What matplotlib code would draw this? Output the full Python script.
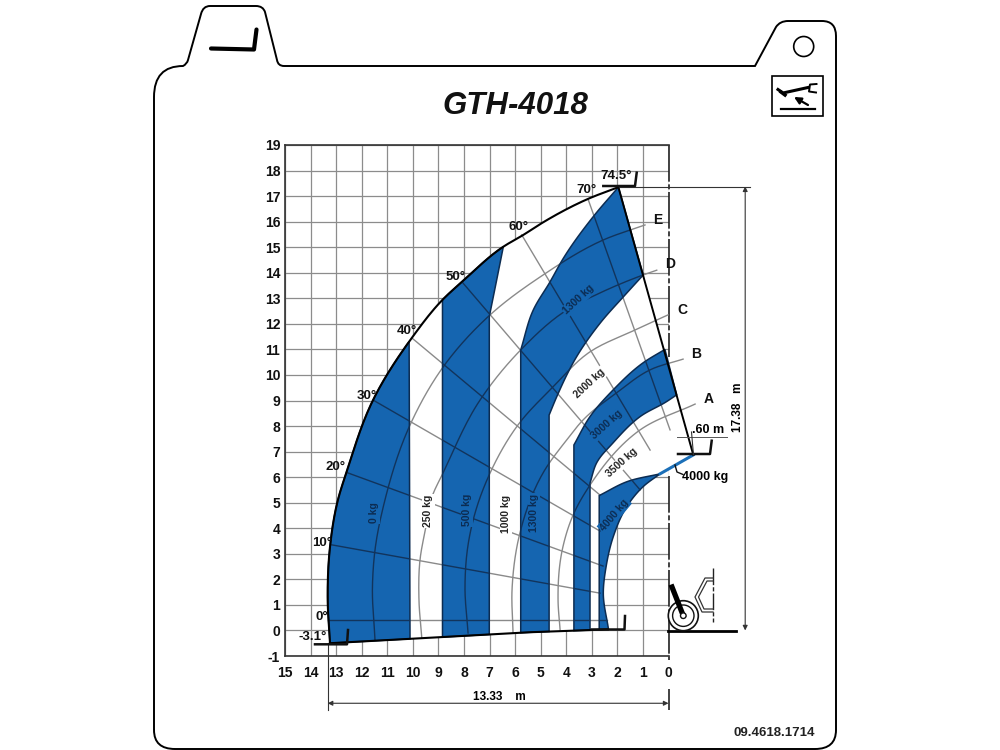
import numpy as np
import matplotlib
matplotlib.use('Agg')
import matplotlib.pyplot as plt
from matplotlib.patches import Polygon, Circle, PathPatch, Rectangle
from matplotlib.path import Path

plt.rcParams['font.family'] = ['Liberation Sans', 'DejaVu Sans']
plt.rcParams['axes.unicode_minus'] = False

# ---------- data (metres) ----------
x_ticks = list(range(0, 16))
y_ticks = list(range(-1, 20))
envelope = [(13.24,-0.50),(13.33,1.19),(13.24,3.27),(12.93,5.11),(12.59,6.21),(11.56,9.01),
            (10.04,11.45),(8.84,12.94),(8.04,13.68),(6.46,15.02),(5.68,15.48),(4.91,15.97),
            (3.15,16.89),(1.96,17.35)]
bottom_line = [(13.24,-0.50),(5.42,-0.07),(2.37,0.04)]
boom_end = (-0.97,6.87)
band_edges = [10.11,8.84,7.01,5.78,4.67,3.70,3.07,2.71]
b500_right = [(6.46,15.02),(6.72,13.72),(7.01,12.28)]
b1300_upper = [(5.78,10.98),(5.29,12.54),(4.63,13.65),(4.11,14.57),(2.94,16.20),(1.96,17.35)]
b1300_lower = [(0.99,13.91),(1.70,13.13),(2.68,12.02),(3.59,10.72),(4.37,9.15),(4.67,8.43)]
b3000_upper = [(3.70,7.26),(3.07,8.37),(2.17,9.41),(1.00,10.47),(0.14,11.00)]
b3000_lower = [(-0.32,9.22),(0.07,8.96),(1.11,8.37),(2.17,7.34),(2.81,6.56),(3.07,5.77)]
b4000_upper = [(2.71,5.28),(1.63,5.82),(0.33,6.13)]
b4000_lower = [(0.33,6.13),(0.99,5.63),(1.63,4.85),(2.16,3.67),(2.44,2.50),(2.55,1.47),(2.35,0.06)]

arc_E = [(11.48,-0.37),(11.58,1.71),(11.48,3.15),(11.09,5.11),(10.11,8.04),(8.81,10.32),
         (6.98,12.35),(4.91,13.91),(2.56,15.28),(0.92,15.87)]
arc_D = [(9.65,-0.29),(9.76,1.19),(9.72,2.76),(9.48,4.09),(9.25,5.23),(8.82,6.16),(7.37,9.02),
         (5.78,10.98),(3.98,12.54),(2.68,13.21),(1.00,13.91),(0.46,14.10)]
arc_C = [(7.84,-0.10),(7.96,1.71),(7.84,3.35),(7.53,4.72),(6.98,6.16),(5.89,8.04),(4.52,9.53),
         (3.15,10.85),(1.31,11.76),(0.02,12.35)]
arc_B = [(6.08,-0.10),(6.12,1.59),(5.81,3.82),(4.91,6.16),(3.98,7.46),(3.34,8.24),(2.03,9.30),
         (0.72,10.20),(-0.57,10.62)]
arc_A = [(4.24,0.02),(4.32,1.19),(4.13,3.27),(3.73,4.52),(3.07,5.69),(1.11,7.85),(-1.04,8.86)]
arcs = [arc_E, arc_D, arc_C, arc_B, arc_A]

radials = [[(13.30,0.41),(2.42,0.41)],
           [(13.17,3.35),(2.68,1.46)],
           [(12.58,6.18),(2.56,2.52)],
           [(11.56,9.02),(2.68,3.89)],
           [(10.04,11.45),(2.68,5.30)],
           [(8.04,13.60),(1.11,5.50)],
           [(5.74,15.48),(0.72,7.06)],
           [(3.15,16.89),(-0.06,7.85)]]

angle_labels = ['0°','-3.1°','10°','20°','30°','40°','50°','60°','70°','74.5°']
angle_pos = [(13.56,0.52),(13.90,-0.24),(13.56,3.42),(13.04,6.39),(11.79,9.17),(10.24,11.72),
             (8.31,13.85),(5.87,15.79),(3.20,17.24),(2.03,17.79)]
zone_labels = ['A','B','C','D','E']
zone_pos = [(-1.58,9.06),(-1.10,10.81),(-0.54,12.55),(-0.06,14.35),(0.42,16.07)]
kg_labels = ['0 kg','250 kg','500 kg','1000 kg','1300 kg','1300 kg','2000 kg','3000 kg','3500 kg','4000 kg']
kg_pos = [(11.51,4.61),(9.39,4.68),(7.89,4.72),(6.36,4.56),(5.26,4.60),(3.50,12.96),(3.07,9.67),
          (2.42,8.04),(1.81,6.58),(2.12,4.52)]
kg_rot = [90,90,90,90,90,43,43,42,42,50]
kg_on_blue = [True,False,True,False,True,True,False,True,False,True]
reach = 13.33
height = 17.38
fork_offset = 0.60
capacity = '4000 kg'
title = 'GTH-4018'
code = '09.4618.1714'

DARK = '#0c2c52'
BLUE = '#1565b0'
GREY = '#8c8c8c'
INK = '#111111'

# ---------- helpers ----------
def curve(pts, n=16):
    """Smooth drawing of a line through the read points (chord-length Hermite)."""
    p = np.array(pts, float)
    if len(p) < 3:
        return p
    d = np.linalg.norm(np.diff(p, axis=0), axis=1)
    s = np.diff(p, axis=0) / d[:, None]
    m = np.zeros_like(p)
    m[0], m[-1] = s[0], s[-1]
    for i in range(1, len(p)-1):
        m[i] = (s[i-1]*d[i] + s[i]*d[i-1]) / (d[i-1] + d[i])
    out = []
    for i in range(len(d)):
        t = np.linspace(0, 1, n, endpoint=False)[:, None]
        out.append((2*t**3-3*t**2+1)*p[i] + (t**3-2*t**2+t)*d[i]*m[i]
                   + (-2*t**3+3*t**2)*p[i+1] + (t**3-t**2)*d[i]*m[i+1])
    out.append(p[-1:])
    return np.vstack(out)

env = curve(envelope)
bot = np.array(bottom_line)
bot_xy = bot[np.argsort(bot[:, 0])]
def bottom_y(x):
    return float(np.interp(x, bot_xy[:, 0], bot_xy[:, 1]))
def env_y(x):
    top = env[np.argmax(env[:, 0]):]
    o = np.argsort(top[:, 0])
    return float(np.interp(x, top[o, 0], top[o, 1]))
def env_between(x1, x2):
    top = env[np.argmax(env[:, 0]):]
    m = (top[:, 0] <= x1) & (top[:, 0] >= x2)
    return top[m]

fig = plt.figure(figsize=(10, 7.5), dpi=100, facecolor='white')
ax = fig.add_axes([0.285, (750-656)/750, 0.3835, 511/750], facecolor='none', zorder=2)
ax.set_xlim(15, 0)
ax.set_ylim(-1, 19)
ax.set_xticks(x_ticks)
ax.set_yticks(y_ticks)
ax.set_axisbelow(True)
ax.grid(True, color=GREY, lw=0.9)
ax.tick_params(length=0, labelsize=10)
ax.tick_params(axis='x', pad=7.5)
ax.tick_params(axis='y', pad=3.5)
for t in ax.get_xticklabels() + ax.get_yticklabels():
    t.set_fontweight('bold')
    t.set_color(INK)
for s in ['left', 'top', 'bottom']:
    ax.spines[s].set_color('#333333')
    ax.spines[s].set_linewidth(1.2)
ax.spines['right'].set_visible(False)

# white region hiding the grid under the load chart
region = np.vstack([env, [boom_end], curve(b4000_lower), bot[::-1]])
ax.add_patch(Polygon(region, closed=True, fc='white', ec='none', zorder=2, clip_on=False))

# dash-dot machine axis
for y0, y1 in [(19, 10.72), (6.05, -1.15), (-2.3, -3.1)]:
    ax.plot([0, 0], [y0, y1], color='#222222', lw=1.2, ls=(0, (22, 1.6, 3, 1.6)), clip_on=False, zorder=2.5)

# grey load arcs and angle rays
for a in arcs:
    c = curve(a)
    ax.plot(c[:, 0], c[:, 1], color='#8a8a8a', lw=1.0, clip_on=False, zorder=3)
for r in radials:
    r = np.array(r)
    ax.plot(r[:, 0], r[:, 1], color='#8a8a8a', lw=1.0, clip_on=False, zorder=3)

# blue bands
e0, e1, e2, e3, e4, e5, e6, e7 = band_edges
bands = []
bands.append(np.vstack([env_between(13.4, e0), [(e0, bottom_y(e0))], [envelope[0]], env[:np.argmax(env[:, 0])+1]]))
bands.append(np.vstack([[(e1, bottom_y(e1))], [(e1, env_y(e1))], env_between(e1, b500_right[0][0]),
                        curve(b500_right), [(e2, bottom_y(e2))]]))
bands.append(np.vstack([[(e3, bottom_y(e3))], curve(b1300_upper), curve(b1300_lower), [(e4, bottom_y(e4))]]))
bands.append(np.vstack([[(e5, bottom_y(e5))], curve(b3000_upper), curve(b3000_lower), [(e6, bottom_y(e6))]]))
bands.append(np.vstack([[(e7, bottom_y(e7))], curve(b4000_upper), curve(b4000_lower)[1:]]))
patches = []
for b in bands:
    p = Polygon(b, closed=True, fc=BLUE, ec=DARK, lw=1.1, zorder=4, clip_on=False)
    ax.add_patch(p)
    patches.append(p)

# dark copy of the lines over each band
for p in patches:
    for a in [curve(x) for x in arcs] + [np.array(r) for r in radials]:
        ln, = ax.plot(a[:, 0], a[:, 1], color='#12345c', lw=1.0, zorder=5)
        ln.set_clip_path(p)
        ln.set_clip_box(None)

# outline
ax.plot(env[:, 0], env[:, 1], color='black', lw=1.5, clip_on=False, zorder=7)
ax.plot(bot[:, 0], bot[:, 1], color='black', lw=1.5, clip_on=False, zorder=7)
ax.plot([envelope[-1][0], boom_end[0]], [envelope[-1][1], boom_end[1]], color='black', lw=1.4, clip_on=False, zorder=7)
# thin strip of the 4000 kg zone
ax.plot([b4000_upper[-1][0], boom_end[0]], [b4000_upper[-1][1], boom_end[1]], color='#1b6fb8', lw=2.2,
        clip_on=False, zorder=6)

# labels
for s, (x, y) in zip(angle_labels, angle_pos):
    ax.text(x, y, s, ha='center', va='center', fontsize=9.5, fontweight='bold', color=INK, zorder=9)
for s, (x, y) in zip(zone_labels, zone_pos):
    ax.text(x, y, s, ha='center', va='center', fontsize=10, fontweight='bold', color=INK, zorder=9, clip_on=False)
for s, (x, y), r, blue in zip(kg_labels, kg_pos, kg_rot, kg_on_blue):
    ax.text(x, y, s, ha='center', va='center', rotation=r, fontsize=7.5, fontweight='bold',
            color=DARK if blue else '#222222', zorder=9,
            bbox=dict(fc=BLUE if blue else 'white', ec='none', pad=0.8))

ax.text(-1.55, 7.85, f'.{int(fork_offset*100)} m', ha='center', va='center', fontsize=9, fontweight='bold', zorder=9)
ax.text(-1.43, 6.01, capacity, ha='center', va='center', fontsize=9, fontweight='bold', zorder=9)

# dimensions
ax.plot([reach, reach], [-0.5, -3.1], color='#333333', lw=0.8, clip_on=False, zorder=3)
ax.annotate('', xy=(reach, -2.85), xytext=(0, -2.85), annotation_clip=False,
            arrowprops=dict(arrowstyle='<|-|>', color='#333333', lw=0.8, mutation_scale=7, shrinkA=0, shrinkB=0))
ax.text(6.61, -2.6, f'{reach:.2f}    m', ha='center', va='center', fontsize=8.5, fontweight='bold', zorder=9)
hx = -3.0
ax.plot([1.9, hx + (-0.2)], [height - 0.01, height - 0.01], color='#333333', lw=0.8, clip_on=False, zorder=3)
ax.annotate('', xy=(hx, height), xytext=(hx, 0), annotation_clip=False,
            arrowprops=dict(arrowstyle='<|-|>', color='#333333', lw=0.8, mutation_scale=7, shrinkA=0, shrinkB=0))
ax.text(-2.72, 8.75, f'{height:.2f}   m', rotation=90, ha='center', va='center', fontsize=8.5, fontweight='bold', zorder=9)

# ---------- overlay in pixels: frame, forks, machine, icons ----------
ov = fig.add_axes([0, 0, 1, 1], facecolor='none', zorder=3)
ov.set_xlim(0, 1000)
ov.set_ylim(750, 0)
ov.axis('off')

M, L, Q = Path.MOVETO, Path.LINETO, Path.CURVE3
frame = [((154,730),M),((154,97),L),((154,66),Q),((183,66),Q),((187,64),Q),((188,60),Q),((201,14),L),((203,6),Q),
         ((210,6),Q),((256,6),L),((263,6),Q),((265,12),Q),((277,60),L),((278,66),Q),((284,66),Q),((755,66),L),
         ((776,27),L),((780,21),Q),((788,21),Q),((822,21),L),((836,21),Q),((836,36),Q),((836,730),L),
         ((836,749),Q),((815,749),Q),((175,749),L),((154,749),Q),((154,730),Q)]
ov.add_patch(PathPatch(Path([p for p, _ in frame], [c for _, c in frame]), fc='none', ec='black', lw=1.4))

ov.text(515.5, 106, title, ha='center', va='center', fontsize=22.5, fontweight='bold', style='italic', color='#111111')
ov.text(774, 733, code, ha='center', va='center', fontsize=9.5, fontweight='bold', color='#222222')

# top-left fork icon
ov.plot([211, 254, 256.5], [48.5, 49.5, 29.5], color='black', lw=3.0, solid_capstyle='round', solid_joinstyle='round')
# circle and tilt icon
ov.add_patch(Circle((803.7, 46.5), 10, fc='none', ec='black', lw=1.2))
ov.add_patch(Rectangle((772.3, 76), 50.4, 39.7, fc='none', ec='black', lw=1.2))
ov.plot([778, 783, 808], [89.5, 93, 87.5], color='black', lw=2.2)
ov.plot([816.5, 810, 809, 816], [84, 84.5, 91.5, 92.5], color='black', lw=1.4)
ov.plot([781, 785], [92, 95], color='black', lw=2.5)
ov.plot([780.7, 815], [109, 109], color='black', lw=1.6)
ov.annotate('', xy=(794, 97), xytext=(808, 105), arrowprops=dict(arrowstyle='-|>', color='black', lw=1.6, mutation_scale=10, shrinkA=0, shrinkB=0))

# forks on the chart
for xs, ys in [([315, 347, 348], [644.3, 644.3, 630]),
               ([591.7, 624.5, 625], [629.5, 629.5, 616]),
               ([603.3, 635, 636.7], [186, 186, 172.7]),
               ([678, 710, 711.7], [454, 454, 440.7])]:
    ov.plot(xs, ys, color='#111111', lw=1.8, solid_joinstyle='round')

# .60 m dimension and capacity leader
ov.plot([677, 727], [437.3, 437.3], color='#555555', lw=0.7)
ov.plot([691.5, 693.5], [432, 455], color='#333333', lw=0.8)
ov.plot([675, 677, 683], [465, 472, 474.5], color='#111111', lw=1.0)

# ground line and machine
ov.plot([668, 736], [631, 631], color='black', lw=2.0)
ov.add_patch(Circle((683.3, 615.7), 15, fc='white', ec='#111111', lw=1.2, zorder=2))
ov.add_patch(Circle((683.3, 615.7), 10.7, fc='none', ec='#111111', lw=1.0, zorder=2))
ov.plot([683, 672], [615, 587], color='black', lw=3.8, zorder=3)
ov.add_patch(Circle((683.3, 615.7), 2.8, fc='white', ec='#111111', lw=1.0, zorder=4))
ov.plot([713, 713], [568, 622], color='#222222', lw=1.0, ls=(0, (12, 1.5, 3, 1.5)))
ov.plot([713, 705, 695, 702, 713], [578, 578, 597, 612, 612], color='#333333', lw=0.9)
ov.plot([713, 707, 698.5, 704, 713], [581, 581, 597, 609, 609], color='#333333', lw=0.9)

fig.savefig('out.png', dpi=100)
